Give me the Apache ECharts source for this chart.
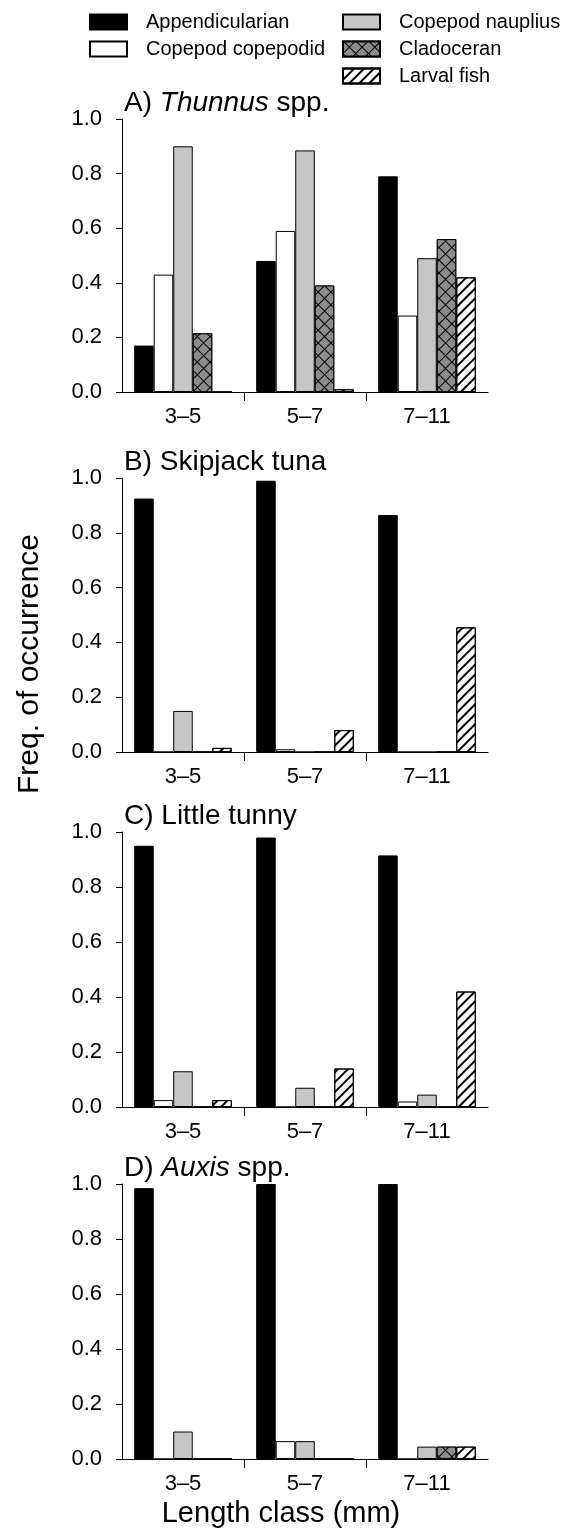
<!DOCTYPE html>
<html>
<head>
<meta charset="utf-8">
<script src="https://cdn.jsdelivr.net/npm/echarts@6/dist/echarts.min.js"></script>
<style>
  html, body { margin: 0; padding: 0; background: #ffffff; }
  #chart { width: 566px; height: 1535px; }
</style>
</head>
<body>
<div id="chart"></div>
<script>
// Length classes on the x axis
const categories = ['3–5', '5–7', '7–11'];

// Frequency of occurrence per prey type; one row per panel (A, B, C, D),
// one value per length class
const appendicularian = [
  [0.17, 0.48, 0.79],
  [0.925, 0.99, 0.865],
  [0.95, 0.98, 0.915],
  [0.985, 1.0, 1.0]
];
const copepodCopepodid = [
  [0.43, 0.59, 0.28],
  [0, 0.01, 0],
  [0.025, 0, 0.02],
  [0, 0.065, 0]
];
const copepodNauplius = [
  [0.90, 0.885, 0.49],
  [0.15, 0, 0],
  [0.13, 0.07, 0.045],
  [0.10, 0.065, 0.045]
];
const cladoceran = [
  [0.215, 0.39, 0.56],
  [0, 0, 0],
  [0, 0, 0],
  [0, 0, 0.045]
];
const larvalFish = [
  [0, 0.01, 0.42],
  [0.015, 0.08, 0.455],
  [0.025, 0.14, 0.42],
  [0, 0, 0.045]
];

const preyNames = ['Appendicularian', 'Copepod copepodid', 'Copepod nauplius', 'Cladoceran', 'Larval fish'];
const preyValues = [appendicularian, copepodCopepodid, copepodNauplius, cladoceran, larvalFish];

// Panel headings (rich text so the genus names can be italic)
const panelTitles = [
  '{n|A) }{i|Thunnus}{n| spp.}',
  '{n|B) Skipjack tuna}',
  '{n|C) Little tunny}',
  '{n|D) }{i|Auxis}{n| spp.}'
];

// y-axis tick values
const yTicks = [0, 0.2, 0.4, 0.6, 0.8, 1.0];

const FONT = '"Liberation Sans", Arial, sans-serif';
const INK = '#000000';

// Plot frames for the four stacked panels
const gridTops = [119, 478, 832, 1184];
const gridHeights = [273, 274, 275, 275];
const gridLeft = 122;
const gridWidth = 366;

const preyStyles = [
  { color: '#000000', borderColor: INK, borderWidth: 1 },
  { color: '#ffffff', borderColor: INK, borderWidth: 1 },
  { color: '#c6c6c6', borderColor: INK, borderWidth: 1 },
  {
    color: '#8c8c8c', borderColor: INK, borderWidth: 1,
    decal: {
      symbol: 'rect', symbolSize: 1,
      dashArrayX: [[8, 1]], dashArrayY: [8, 1],
      rotation: Math.PI / 4,
      color: '#8c8c8c', backgroundColor: '#000000'
    }
  },
  {
    color: '#ffffff', borderColor: INK, borderWidth: 1,
    decal: {
      symbol: 'rect', symbolSize: 1,
      dashArrayX: [1, 0], dashArrayY: [1.2, 4.5],
      rotation: -Math.PI / 4,
      color: '#000000'
    }
  }
];

const grids = [], xAxes = [], yAxes = [], series = [], titles = [];

gridTops.forEach((top, p) => {
  grids.push({ left: gridLeft, top: top, width: gridWidth, height: gridHeights[p] });

  titles.push({
    text: panelTitles[p],
    left: 124,
    top: top - 31,
    padding: 0,
    textStyle: {
      fontWeight: 'normal',
      rich: {
        n: { fontFamily: FONT, fontSize: 28, fontWeight: 'normal', color: INK, lineHeight: 30 },
        i: { fontFamily: FONT, fontSize: 28, fontWeight: 'normal', fontStyle: 'italic', color: INK, lineHeight: 30 }
      }
    }
  });

  // category axis carrying the bars and labels
  xAxes.push({
    type: 'category',
    gridIndex: p,
    data: categories,
    position: 'bottom',
    axisLine: { lineStyle: { color: INK, width: 1 } },
    axisTick: { show: false },
    axisLabel: { fontFamily: FONT, fontSize: 22, color: INK, margin: 14 },
    splitLine: { show: false }
  });
  // companion axis that draws only the interior class-boundary ticks
  xAxes.push({
    type: 'category',
    gridIndex: p,
    data: ['', '', '', ''],
    boundaryGap: false,
    position: 'bottom',
    axisLine: { show: false },
    axisLabel: { show: false },
    axisTick: {
      show: true, length: 9,
      interval: (idx) => idx === 1 || idx === 2,
      lineStyle: { color: INK, width: 1 }
    },
    splitLine: { show: false }
  });

  yAxes.push({
    type: 'value',
    gridIndex: p,
    min: yTicks[0],
    max: yTicks[yTicks.length - 1],
    interval: 0.2,
    axisLine: { show: true, lineStyle: { color: INK, width: 1 } },
    axisTick: { show: true, length: 6, lineStyle: { color: INK, width: 1 } },
    axisLabel: {
      fontFamily: FONT, fontSize: 22, color: INK, margin: 20,
      formatter: (v) => v.toFixed(1)
    },
    splitLine: { show: false }
  });

  preyNames.forEach((name, k) => {
    series.push({
      type: 'bar',
      name: name,
      xAxisIndex: p * 2,
      yAxisIndex: p,
      data: preyValues[k][p],
      barGap: '0%',
      barCategoryGap: '20%',
      itemStyle: preyStyles[k],
      emphasis: { disabled: true },
      animation: false
    });
  });
});

const legendText = { fontFamily: FONT, fontSize: 20, color: INK, padding: [0, 0, 0, 14] };

const option = {
  backgroundColor: '#ffffff',
  animation: false,
  title: titles,
  legend: [
    {
      data: ['Appendicularian', 'Copepod copepodid'],
      orient: 'vertical', left: 89, top: 12, padding: 0,
      itemWidth: 37, itemHeight: 15, itemGap: 7,
      selectedMode: false, icon: 'rect',
      textStyle: legendText
    },
    {
      data: ['Copepod nauplius', 'Cladoceran', 'Larval fish'],
      orient: 'vertical', left: 342, top: 12, padding: 0,
      itemWidth: 37, itemHeight: 15, itemGap: 7,
      selectedMode: false, icon: 'rect',
      textStyle: legendText
    }
  ],
  grid: grids,
  xAxis: xAxes,
  yAxis: yAxes,
  series: series,
  graphic: [
    {
      type: 'text',
      x: 30, y: 664, rotation: Math.PI / 2,
      style: {
        text: 'Freq. of occurrence', fontFamily: FONT, fontSize: 30, fill: INK,
        align: 'center', verticalAlign: 'middle'
      }
    },
    {
      type: 'text',
      x: 281, y: 1514,
      style: {
        text: 'Length class (mm)', fontFamily: FONT, fontSize: 29, fill: INK,
        align: 'center', verticalAlign: 'middle'
      }
    }
  ]
};

const chart = echarts.init(document.getElementById('chart'), null, { renderer: 'canvas' });
chart.setOption(option);
</script>
</body>
</html>
